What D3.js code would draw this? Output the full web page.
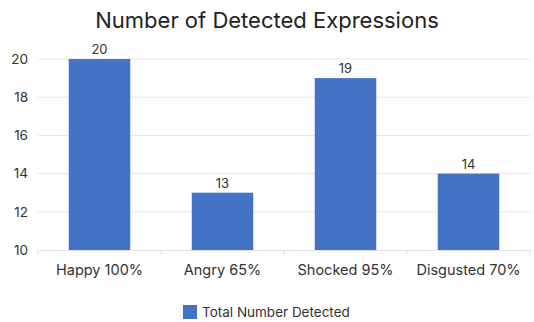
<!DOCTYPE html>
<html>
<head>
<meta charset="utf-8">
<script src="https://cdn.jsdelivr.net/npm/d3@7"></script>
<style>
  html, body { margin: 0; padding: 0; background: #fff; }
  svg { display: block; font-family: Inter, "Noto Sans", sans-serif; }
</style>
</head>
<body>
<svg id="chart" width="534" height="322"></svg>
<script>
const categories = ["Happy 100%", "Angry 65%", "Shocked 95%", "Disgusted 70%"];
const detected = [20, 13, 19, 14];
const yTicks = [10, 12, 14, 16, 18, 20];
const seriesName = "Total Number Detected";
const chartTitle = "Number of Detected Expressions";

const svg = d3.select("#chart");
const W = 534, H = 322;
const m = { top: 59, right: 4, bottom: 72, left: 38 };
const innerW = W - m.left - m.right, innerH = H - m.top - m.bottom;
const barColor = "#4472c4";

const x = d3.scaleBand().domain(categories).range([0, innerW]).paddingInner(0.5).paddingOuter(0.25);
const y = d3.scaleLinear().domain([10, 20]).range([innerH, 0]);

const g = svg.append("g").attr("transform", `translate(${m.left},${m.top})`);

// horizontal gridlines
g.append("g").selectAll("line").data(yTicks.slice(1)).join("line")
  .attr("x1", 0).attr("x2", innerW)
  .attr("y1", d => y(d)).attr("y2", d => y(d))
  .attr("stroke", "#e6e6e6").attr("stroke-width", 1);

// y axis labels
const yAxis = g.append("g").call(d3.axisLeft(y).tickValues(yTicks).tickSize(0).tickPadding(10));
yAxis.select(".domain").remove();
yAxis.selectAll("text").attr("font-size", 13.5).attr("fill", "#333").attr("font-family", "Inter, sans-serif");

// x axis with category separators
const xAxis = g.append("g").attr("transform", `translate(0,${innerH})`)
  .call(d3.axisBottom(x).tickSize(0).tickPadding(15));
xAxis.select(".domain").attr("stroke", "#e0e0e0");
xAxis.selectAll("text").attr("font-size", 14.5).attr("fill", "#333").attr("font-family", "Inter, sans-serif");
const step = x.step();
g.append("g").selectAll("line").data(d3.range(0, categories.length + 1)).join("line")
  .attr("x1", i => i * step).attr("x2", i => i * step)
  .attr("y1", innerH).attr("y2", innerH + 5)
  .attr("stroke", "#e0e0e0");

// bars
g.append("g").selectAll("rect").data(detected).join("rect")
  .attr("x", (d, i) => x(categories[i]))
  .attr("width", x.bandwidth())
  .attr("y", d => y(d))
  .attr("height", d => innerH - y(d))
  .attr("fill", barColor);

// value labels
g.append("g").selectAll("text").data(detected).join("text")
  .attr("x", (d, i) => x(categories[i]) + x.bandwidth() / 2)
  .attr("y", d => y(d) - 5)
  .attr("text-anchor", "middle")
  .attr("font-size", 13).attr("fill", "#333")
  .text(d => d);

// title
svg.append("text").attr("x", W / 2).attr("y", 28).attr("text-anchor", "middle")
  .attr("font-size", 22).attr("fill", "#222").text(chartTitle);

// legend
const lg = svg.append("g").attr("transform", "translate(183,305)");
lg.append("rect").attr("width", 14).attr("height", 14).attr("fill", barColor);
lg.append("text").attr("x", 19).attr("y", 12).attr("font-size", 13.5).attr("fill", "#333").text(seriesName);
</script>
</body>
</html>
